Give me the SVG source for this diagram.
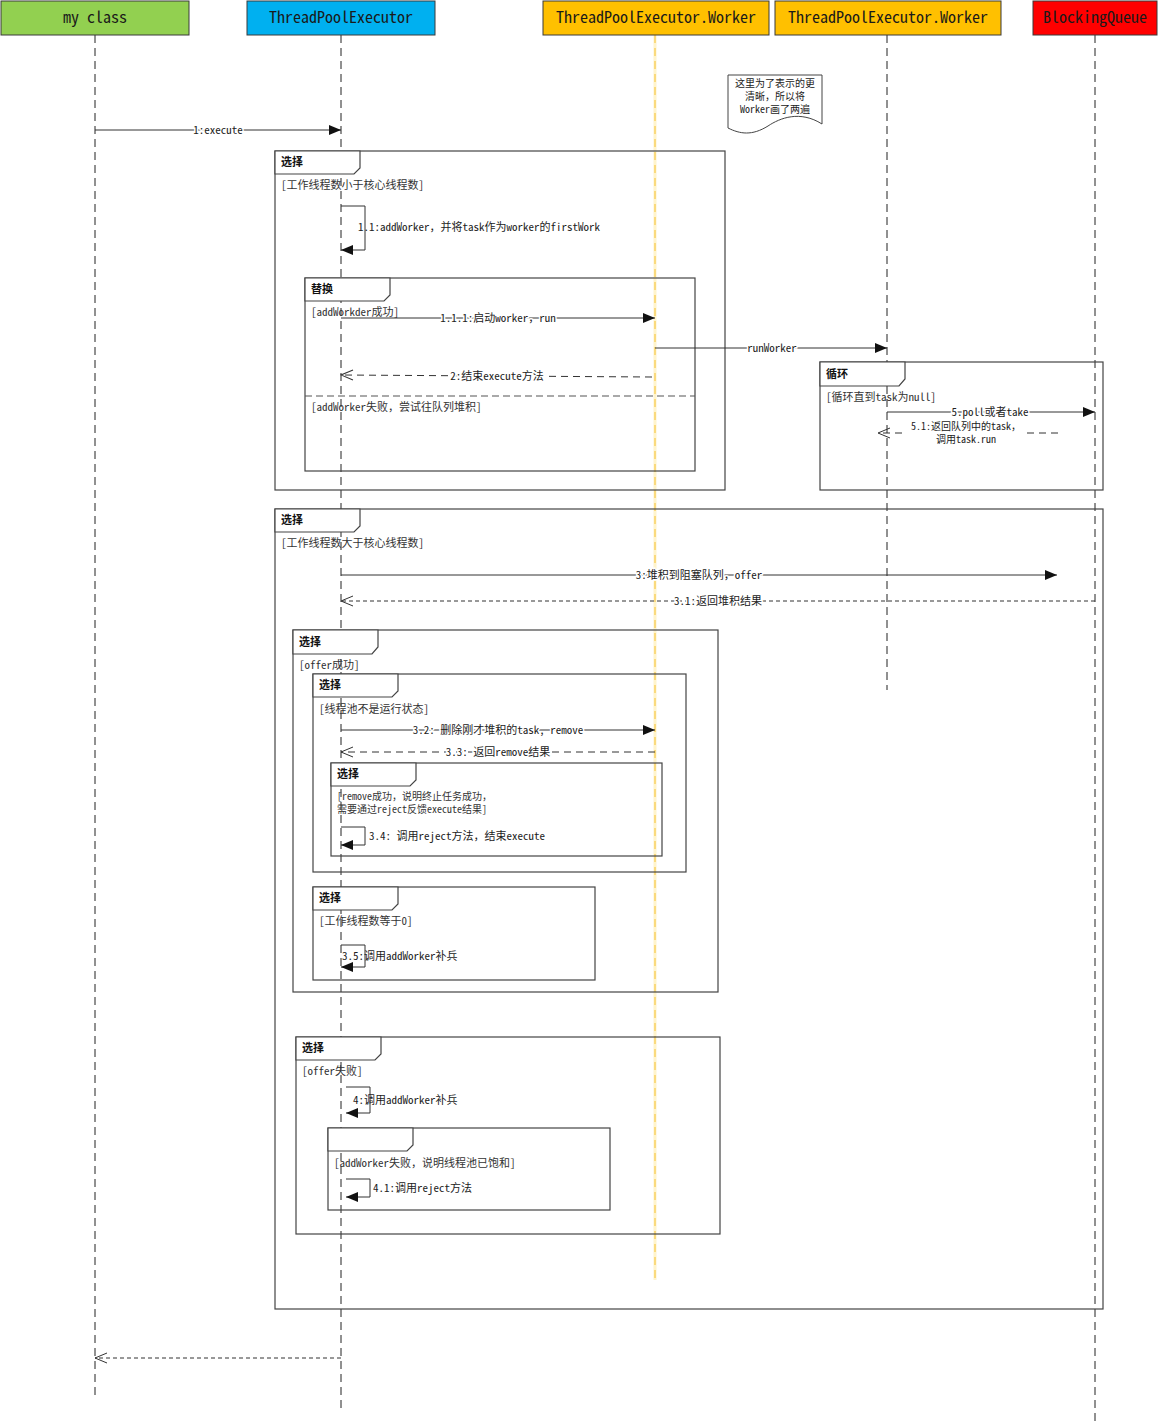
<svg xmlns="http://www.w3.org/2000/svg" width="1159" height="1422" viewBox="0 0 1159 1422">
<style>
.hdr{stroke:#3a3a3a;stroke-width:1}
.htxt{font-family:"Noto Sans Mono CJK SC","Liberation Mono","Noto Sans CJK SC",monospace;font-size:16px;text-anchor:middle;fill:#1a1a1a}
.life{stroke:#222;stroke-width:1;stroke-dasharray:8,5;fill:none}
.frame{fill:none;stroke:#444;stroke-width:1.2}
.tab{fill:#fff;stroke:#444;stroke-width:1.2}
.flbl{font-family:"Noto Sans CJK SC",sans-serif;font-size:11px;font-weight:bold;fill:#111}
.guard{font-family:"Noto Sans Mono CJK SC","Liberation Mono","Noto Sans CJK SC",monospace;font-size:11px;fill:#333}
.lbl{font-family:"Noto Sans Mono CJK SC","Liberation Mono","Noto Sans CJK SC",monospace;font-size:11px;fill:#222}
.sm{font-size:10px}
.mid{text-anchor:middle}
.halo{paint-order:stroke;stroke:#fff;stroke-width:3px}
.msg{stroke:#333;stroke-width:1;fill:none}
.ret{stroke:#333;stroke-width:1;fill:none;stroke-dasharray:7,5}
.ret2{stroke:#333;stroke-width:1;fill:none;stroke-dasharray:4,3}
</style>
<defs>
<marker id="fa" markerUnits="userSpaceOnUse" markerWidth="12" markerHeight="10" refX="12" refY="5" orient="auto"><path d="M0,0 L12,5 L0,10 Z" fill="#111"/></marker>
<marker id="oa" markerUnits="userSpaceOnUse" markerWidth="14" markerHeight="12" refX="13" refY="6" orient="auto"><path d="M1,1 L13,6 L1,11" fill="none" stroke="#333" stroke-width="1"/></marker>
</defs>
<rect width="1159" height="1422" fill="#fff"/>

<g id="lifelines">
<line class="life" x1="95" y1="35" x2="95" y2="1400"/>
<line class="life" x1="341" y1="35" x2="341" y2="1412"/>
<line x1="655" y1="35" x2="655" y2="1280" stroke="#FFF4CC" stroke-width="3"/>
<line x1="655" y1="35" x2="655" y2="1280" stroke="#F5C030" stroke-width="1" stroke-dasharray="8,5"/>
<line class="life" x1="887" y1="35" x2="887" y2="690"/>
<line class="life" x1="1095" y1="35" x2="1095" y2="1422"/>
</g>

<g id="n-myclass"><rect class="hdr" x="1" y="1" width="188" height="34" fill="#92D050"/><text class="htxt" x="95" y="23">my class</text></g>
<g id="n-tpe"><rect class="hdr" x="247" y="1" width="188" height="34" fill="#00B0F0"/><text class="htxt" x="341" y="23" fill="#14144a">ThreadPoolExecutor</text></g>
<g id="n-worker1"><rect class="hdr" x="543" y="1" width="226" height="34" fill="#FFC000" stroke="#FFC000"/><text class="htxt" x="656" y="23">ThreadPoolExecutor.Worker</text></g>
<g id="n-worker2"><rect class="hdr" x="775" y="1" width="226" height="34" fill="#FFC000"/><text class="htxt" x="888" y="23">ThreadPoolExecutor.Worker</text></g>
<g id="n-queue"><rect class="hdr" x="1033" y="1" width="124" height="34" fill="#FF0000"/><text class="htxt" x="1095" y="23" fill="#4a0000">BlockingQueue</text></g>

<g id="n-note">
<path d="M728,75 H822 V124 C800,110 780,118 768,126 C752,136 740,134 728,128 Z" fill="#fff" stroke="#444" stroke-width="1"/>
<text class="lbl sm mid" x="775" y="87">这里为了表示的更</text>
<text class="lbl sm mid" x="775" y="100">清晰，所以将</text>
<text class="lbl sm mid" x="775" y="113">Worker画了两遍</text>
</g>

<g id="frames">
<g id="f1"><rect class="frame" x="275" y="151" width="450" height="339"/><path class="tab" d="M275,151 H360 V168 L354,174 H275 Z"/><text class="flbl" x="281" y="166">选择</text><text class="guard" x="281" y="189">[工作线程数小于核心线程数]</text></g>
<g id="f-alt"><rect class="frame" x="305" y="278" width="390" height="193"/><path class="tab" d="M305,278 H390 V295 L384,301 H305 Z"/><text class="flbl" x="311" y="293">替换</text><text class="guard" x="311" y="316">[addWorkder成功]</text><line x1="305" y1="396" x2="695" y2="396" stroke="#555" stroke-width="1.2" stroke-dasharray="7,4"/><text class="guard" x="311" y="411">[addWorker失败，尝试往队列堆积]</text></g>
<g id="f-loop"><rect class="frame" x="820" y="362" width="283" height="128"/><path class="tab" d="M820,362 H905 V379 L899,386 H820 Z"/><text class="flbl" x="826" y="378">循环</text><text class="guard" x="826" y="401">[循环直到task为null]</text></g>
<g id="f2"><rect class="frame" x="275" y="509" width="828" height="800"/><path class="tab" d="M275,509 H360 V526 L354,532 H275 Z"/><text class="flbl" x="281" y="524">选择</text><text class="guard" x="281" y="547">[工作线程数大于核心线程数]</text></g>
<g id="f3"><rect class="frame" x="293" y="630" width="425" height="362"/><path class="tab" d="M293,630 H378 V647 L372,654 H293 Z"/><text class="flbl" x="299" y="646">选择</text><text class="guard" x="299" y="669">[offer成功]</text></g>
<g id="f4"><rect class="frame" x="313" y="674" width="373" height="198"/><path class="tab" d="M313,674 H398 V691 L392,697 H313 Z"/><text class="flbl" x="319" y="689">选择</text><text class="guard" x="319" y="713">[线程池不是运行状态]</text></g>
<g id="f5"><rect class="frame" x="331" y="763" width="331" height="93"/><path class="tab" d="M331,763 H416 V780 L410,786 H331 Z"/><text class="flbl" x="337" y="778">选择</text><text class="guard sm" x="337" y="800">[remove成功，说明终止任务成功，</text><text class="guard sm" x="337" y="813">需要通过reject反馈execute结果]</text></g>
<g id="f6"><rect class="frame" x="313" y="887" width="282" height="93"/><path class="tab" d="M313,887 H398 V904 L392,910 H313 Z"/><text class="flbl" x="319" y="902">选择</text><text class="guard" x="319" y="925">[工作线程数等于0]</text></g>
<g id="f7"><rect class="frame" x="296" y="1037" width="424" height="197"/><path class="tab" d="M296,1037 H381 V1054 L375,1060 H296 Z"/><text class="flbl" x="302" y="1052">选择</text><text class="guard" x="302" y="1075">[offer失败]</text></g>
<g id="f8"><rect class="frame" x="328" y="1128" width="282" height="82"/><path class="tab" d="M328,1128 H413 V1145 L407,1151 H328 Z"/><text class="guard" x="334" y="1167">[addWorker失败，说明线程池已饱和]</text></g>
</g>

<g id="connectors">
<line class="msg" x1="95" y1="130" x2="341" y2="130" marker-end="url(#fa)"/>
<text class="lbl mid halo" x="218" y="134">1:execute</text>

<path class="msg" d="M341,206 H365 V250 H341" marker-end="url(#fa)"/>
<text class="lbl" x="358" y="231">1.1:addWorker，并将task作为worker的firstWork</text>

<line class="msg" x1="341" y1="318" x2="655" y2="318" marker-end="url(#fa)"/>
<text class="lbl mid halo" x="498" y="322">1.1.1:启动worker，run</text>

<line class="msg" x1="655" y1="348" x2="887" y2="348" marker-end="url(#fa)"/>
<text class="lbl mid halo" x="772" y="352">runWorker</text>

<line class="ret" x1="652" y1="377" x2="341" y2="375" marker-end="url(#oa)"/>
<text class="lbl mid halo" x="497" y="380">2:结束execute方法</text>

<line class="msg" x1="887" y1="412" x2="1095" y2="412" marker-end="url(#fa)"/>
<text class="lbl mid halo" x="990" y="416">5.poll或者take</text>

<line class="ret" x1="1058" y1="433" x2="878" y2="433" marker-end="url(#oa)"/>
<rect x="905" y="420" width="122" height="26" fill="#fff"/>
<text class="lbl sm mid" x="966" y="430">5.1:返回队列中的task，</text>
<text class="lbl sm mid" x="966" y="443">调用task.run</text>

<line class="msg" x1="341" y1="575" x2="1057" y2="575" marker-end="url(#fa)"/>
<text class="lbl mid halo" x="699" y="579">3:堆积到阻塞队列，offer</text>

<line class="ret2" x1="1095" y1="601" x2="341" y2="601" marker-end="url(#oa)"/>
<text class="lbl mid halo" x="718" y="605">3.1:返回堆积结果</text>

<line class="msg" x1="341" y1="730" x2="655" y2="730" marker-end="url(#fa)"/>
<text class="lbl mid halo" x="498" y="734">3.2: 删除刚才堆积的task, remove</text>

<line class="ret" x1="655" y1="752" x2="341" y2="752" marker-end="url(#oa)"/>
<text class="lbl mid halo" x="498" y="756">3.3: 返回remove结果</text>

<path class="msg" d="M341,827 H365 V845 H341" marker-end="url(#fa)"/>
<text class="lbl" x="369" y="840">3.4: 调用reject方法，结束execute</text>

<path class="msg" d="M341,945 H365 V967 H341" marker-end="url(#fa)"/>
<text class="lbl" x="342" y="960">3.5:调用addWorker补兵</text>

<path class="msg" d="M346,1087 H370 V1113 H346" marker-end="url(#fa)"/>
<text class="lbl" x="353" y="1104">4:调用addWorker补兵</text>

<path class="msg" d="M346,1179 H370 V1197 H346" marker-end="url(#fa)"/>
<text class="lbl" x="373" y="1192">4.1:调用reject方法</text>

<line class="ret2" x1="341" y1="1358" x2="95" y2="1358" marker-end="url(#oa)"/>
</g>
</svg>
